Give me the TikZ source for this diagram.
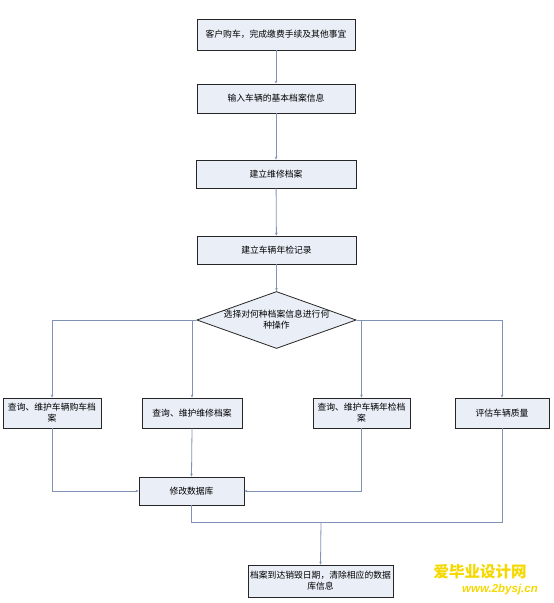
\documentclass[tikz,border=0pt]{standalone}
\usepackage{fontspec}
\newfontfamily\cjk{Noto Sans CJK SC}
\newfontfamily\wmsans{Liberation Sans}
\usetikzlibrary{shapes.geometric,arrows.meta}
\definecolor{boxfill}{HTML}{E9EEF7}
\definecolor{linec}{HTML}{8093B6}
\definecolor{wmyellow}{HTML}{F5D800}
\tikzset{
  stepbox/.style={draw=black!85,line width=0.8pt,fill=boxfill,rectangle,inner sep=1pt,align=center,
     font=\cjk\fontsize{8.8}{11}\selectfont},
  choice/.style={draw=black!85,line width=0.8pt,fill=boxfill,diamond,aspect=2.8,inner sep=0pt,align=center,
     minimum width=159pt,minimum height=57pt,font=\cjk\fontsize{8.8}{11}\selectfont},
  conn/.style={draw=linec,line width=0.8pt,-{Stealth[length=3pt,width=2.6pt]}},
  plain/.style={draw=linec,line width=0.8pt},
}
\begin{document}
\begin{tikzpicture}[x=1pt,y=-1pt]
\useasboundingbox (0,0) rectangle (554,603);
\node[stepbox,minimum width=158pt,minimum height=31pt] (a) at (276,34.5) {客户购车，完成缴费手续及其他事宜};
\node[stepbox,minimum width=158pt,minimum height=29pt] (b) at (276,98.5) {输入车辆的基本档案信息};
\node[stepbox,minimum width=160pt,minimum height=28pt] (c) at (276,174) {建立维修档案};
\node[stepbox,minimum width=159pt,minimum height=28pt] (e) at (276.5,250) {建立车辆年检记录};
\node[choice] (d) at (276.5,320) {选择对何种档案信息进行何\\种操作};
\node[stepbox,minimum width=98pt,minimum height=30pt] (b5) at (52,413) {查询、维护车辆购车档\\案};
\node[stepbox,minimum width=100pt,minimum height=30pt] (b6) at (192,413) {查询、维护维修档案};
\node[stepbox,minimum width=97pt,minimum height=30pt] (b7) at (361.5,413) {查询、维护车辆年检档\\案};
\node[stepbox,minimum width=94pt,minimum height=30pt] (b8) at (502,413) {评估车辆质量};
\node[stepbox,minimum width=105pt,minimum height=28pt] (m) at (191.5,491) {修改数据库};
\node[stepbox,minimum width=145pt,minimum height=32pt] (f) at (320.5,581) {档案到达销毁日期，清除相应的数据\\库信息};
\coordinate (jy) at (321,522);
\draw[conn] (a) -- (b);
\draw[conn] (b) -- (c);
\draw[conn] (c) -- (e);
\draw[conn] (e) -- (d);
\draw[conn] (d.west) -| (b5.north);
\draw[conn] (b6.north |- d.west) -- (b6.north);
\draw[conn] (d.east) -| (b8.north);
\draw[conn] (b7.north |- d.east) -- (b7.north);
\draw[conn] (b5.south) |- (m.west);
\draw[conn] (b6.south) -- (m.north);
\draw[conn] (b7.south) |- (m.east);
\draw[plain] (m.south) |- (jy);
\draw[plain] (b8.south) |- (jy);
\draw[conn] (jy) -- (f.north);
\node[font=\cjk\bfseries\fontsize{15.5}{15.5}\selectfont,text=wmyellow,inner sep=0pt] (wm1) at (480,572) {爱毕业设计网};
\node[font=\wmsans\bfseries\itshape\fontsize{11.5}{11.5}\selectfont,text=wmyellow,inner sep=0pt] (wm2) at (500,590) {www.2bysj.cn};
\end{tikzpicture}
\end{document}
